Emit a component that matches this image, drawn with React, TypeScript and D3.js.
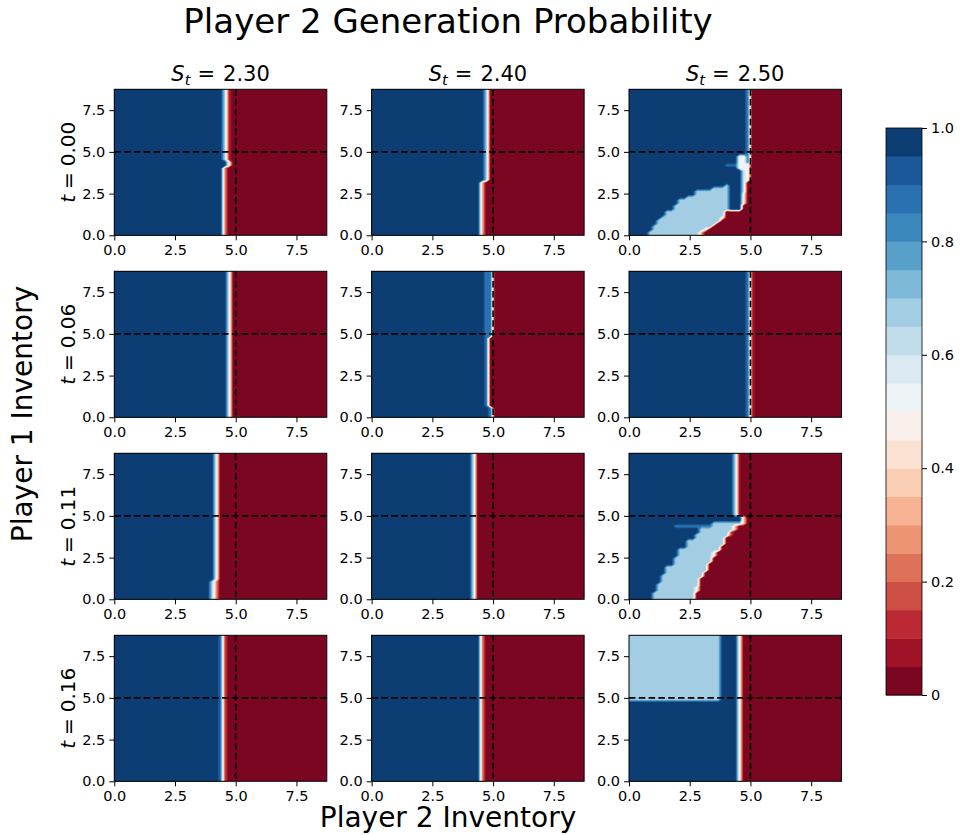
import { useRef, useEffect } from 'react';
import * as d3 from 'd3';

// Column / row headers
const S_VALUES = ['2.30', '2.40', '2.50'];
const T_VALUES = ['0.00', '0.06', '0.11', '0.16'];
const AXIS_TICKS = [0, 2.5, 5.0, 7.5];
const CBAR_TICKS = [0, 0.2, 0.4, 0.6, 0.8, 1.0];
const CBAR_LABELS = ['0', '0.2', '0.4', '0.6', '0.8', '1.0'];
const LEVELS = [0, 0.05, 0.1, 0.15, 0.2, 0.25, 0.3, 0.35, 0.4, 0.45, 0.5, 0.55, 0.6, 0.65, 0.7, 0.75, 0.8, 0.85, 0.9, 0.95, 1.0];
const REF_INVENTORY = 5.0;
const GRID_STEP = 0.175;
const GRID_MAX = 8.75;

// matplotlib RdBu anchor colours
const RDBU_STOPS = [0, 0.1, 0.2, 0.3, 0.4, 0.5, 0.6, 0.7, 0.8, 0.9, 1.0];
const RDBU = ['#67001f', '#b2182b', '#d6604d', '#f4a582', '#fddbc7', '#f7f7f7', '#d1e5f0', '#92c5de', '#4393c3', '#2166ac', '#053061'];

// Decision edge per band of player-1 inventory:
// [yFrom, yTo, player-2 inventory where prob = 0.5, transition width]
const EDGE_T0_S1 = [[0, 4.15, 4.5, 0.22], [4.15, 4.45, 4.72, 0.3], [4.45, 8.75, 4.6, 0.32]];
const EDGE_T0_S2 = [[0, 3.15, 4.52, 0.2], [3.15, 8.75, 4.76, 0.2]];
const EDGE_T0_S3 = [
  [0, 0.2, 2.95, 0.15], [0.2, 0.4, 3.15, 0.15], [0.4, 0.6, 3.4, 0.15], [0.6, 0.8, 3.55, 0.15],
  [0.8, 1.0, 3.7, 0.15], [1.0, 1.2, 3.85, 0.15], [1.2, 1.5, 3.95, 0.15], [1.5, 1.8, 4.65, 0.15],
  [1.8, 2.5, 4.72, 0.15], [2.5, 3.3, 4.8, 0.15], [3.3, 4.3, 4.9, 0.15], [4.3, 8.75, 4.95, 0.15],
];
const EDGE_T1_S1 = [[0, 8.75, 4.74, 0.2]];
const EDGE_T1_S2 = [[0, 0.55, 4.97, 0.2], [0.55, 4.8, 4.8, 0.2], [4.8, 8.75, 4.97, 0.2]];
const EDGE_T1_S3 = [[0, 8.75, 5.0, 0.2]];
const EDGE_T2_S1 = [[0, 1.15, 4.1, 0.45], [1.15, 8.75, 4.21, 0.2]];
const EDGE_T2_S2 = [[0, 8.75, 4.22, 0.2]];
const EDGE_T2_S3 = [
  [0, 0.35, 2.7, 0.15], [0.35, 0.8, 2.8, 0.15], [0.8, 1.3, 2.9, 0.15], [1.3, 1.7, 3.05, 0.15],
  [1.7, 2.1, 3.25, 0.15], [2.1, 2.5, 3.35, 0.15], [2.5, 2.9, 3.5, 0.15], [2.9, 3.3, 3.75, 0.15],
  [3.3, 3.7, 3.95, 0.15], [3.7, 4.1, 4.15, 0.15], [4.1, 4.5, 4.35, 0.15], [4.5, 4.9, 4.7, 0.2],
  [4.9, 8.75, 4.42, 0.3],
];
const EDGE_T3_S1 = [[0, 8.75, 4.47, 0.25]];
const EDGE_T3_S2 = [[0, 8.75, 4.5, 0.22]];
const EDGE_T3_S3 = [[0, 8.75, 4.55, 0.2]];

// Mixed-strategy patches: [yFrom, yTo, xFrom, xTo, probability]
const PATCH_T0_S3 = [
  [0, 0.3, 0.85, 8.75, 0.68], [0.3, 0.6, 1.0, 8.75, 0.68], [0.6, 0.9, 1.1, 8.75, 0.68],
  [0.9, 1.2, 1.3, 8.75, 0.68], [1.2, 1.5, 1.5, 8.75, 0.68], [1.5, 1.8, 1.8, 4.1, 0.68],
  [1.8, 2.1, 2.1, 4.1, 0.68], [2.1, 2.4, 2.45, 4.1, 0.68], [2.4, 2.65, 2.8, 4.1, 0.68],
  [2.65, 2.85, 3.4, 4.1, 0.68], [2.85, 3.1, 3.9, 4.1, 0.68],
  [1.75, 3.9, 4.6, 4.8, 0.6], [3.9, 4.75, 4.4, 4.8, 0.52], [4.15, 4.25, 3.95, 4.4, 0.88],
];
const PATCH_T1_S2 = [[4.8, 8.75, 4.7, 4.9, 0.85]];
const PATCH_T1_S3 = [[0, 8.75, 4.85, 4.95, 0.85]];
const PATCH_T2_S3 = [
  [0, 0.5, 1.05, 8.75, 0.68], [0.5, 1.0, 1.15, 8.75, 0.68], [1.0, 1.5, 1.3, 8.75, 0.68],
  [1.5, 2.0, 1.55, 8.75, 0.68], [2.0, 2.5, 1.8, 8.75, 0.68], [2.5, 3.0, 2.05, 8.75, 0.68],
  [3.0, 3.5, 2.4, 8.75, 0.68], [3.5, 3.9, 2.65, 8.75, 0.68], [3.9, 4.3, 2.9, 8.75, 0.68],
  [4.3, 4.7, 3.4, 4.6, 0.68], [4.3, 4.42, 1.9, 3.4, 0.85],
];
const PATCH_T3_S3 = [[4.8, 8.75, 0, 3.7, 0.68]];

const PANELS = [
  [{ edges: EDGE_T0_S1, patches: [] }, { edges: EDGE_T0_S2, patches: [] }, { edges: EDGE_T0_S3, patches: PATCH_T0_S3 }],
  [{ edges: EDGE_T1_S1, patches: [] }, { edges: EDGE_T1_S2, patches: PATCH_T1_S2 }, { edges: EDGE_T1_S3, patches: PATCH_T1_S3 }],
  [{ edges: EDGE_T2_S1, patches: [] }, { edges: EDGE_T2_S2, patches: [] }, { edges: EDGE_T2_S3, patches: PATCH_T2_S3 }],
  [{ edges: EDGE_T3_S1, patches: [] }, { edges: EDGE_T3_S2, patches: [] }, { edges: EDGE_T3_S3, patches: PATCH_T3_S3 }],
];

const N = Math.round(GRID_MAX / GRID_STEP) + 1;
const EPS = 1e-9;

function buildGrid(edges: number[][], patches: number[][]) {
  const values = new Array(N * N);
  for (let j = 0; j < N; j++) {
    const yv = j * GRID_STEP;
    const e = edges.find(r => yv >= r[0] - EPS && yv <= r[1] + EPS) ?? edges[edges.length - 1];
    for (let i = 0; i < N; i++) {
      const xv = i * GRID_STEP;
      let v = Math.max(0, Math.min(1, 0.5 + (e[2] - xv) / e[3]));
      for (const p of patches) {
        if (yv >= p[0] - EPS && yv <= p[1] + EPS && xv >= p[2] - EPS && xv <= p[3] + EPS) v = Math.min(v, p[4]);
      }
      values[j * N + i] = v;
    }
  }
  return values;
}

export default function App() {
  const svgRef = useRef<SVGSVGElement>(null);

  useEffect(() => {
    if (!svgRef.current) return;
    const svg = d3.select(svgRef.current);
    svg.selectAll('*').remove();

    const font = '"DejaVu Sans", sans-serif';
    const panelX0 = 114.3, colStep = 257.35, panelW = 212.5;
    const panelY0 = 89.3, rowStep = 182, panelH = 146;

    const cmap = d3.scaleLinear<string>().domain(RDBU_STOPS).range(RDBU).interpolate(d3.interpolateRgb);
    const bandColors = LEVELS.slice(0, -1).map((l, i) => cmap((l + LEVELS[i + 1]) / 2));
    const fmt = d3.format('.1f');

    const defs = svg.append('defs');

    PANELS.forEach((row, r) => row.forEach((panel, c) => {
      const left = panelX0 + c * colStep;
      const top = panelY0 + r * rowStep;
      const x = d3.scaleLinear().domain([0, GRID_MAX]).range([left, left + panelW]);
      const y = d3.scaleLinear().domain([0, GRID_MAX]).range([top + panelH, top]);

      const clipId = `clip-${r}-${c}`;
      defs.append('clipPath').attr('id', clipId)
        .append('rect').attr('x', left).attr('y', top).attr('width', panelW).attr('height', panelH);

      const values = buildGrid(panel.edges, panel.patches);
      const contours = d3.contours().size([N, N]).thresholds(LEVELS.slice(1, -1))(values);
      const proj = d3.geoTransform({
        point(px: number, py: number) {
          (this as any).stream.point(x((px - 0.5) * GRID_STEP), y((py - 0.5) * GRID_STEP));
        },
      });
      const path = d3.geoPath(proj);

      const body = svg.append('g').attr('clip-path', `url(#${clipId})`);
      body.append('rect')
        .attr('x', left).attr('y', top).attr('width', panelW).attr('height', panelH)
        .attr('fill', bandColors[0]);
      body.selectAll('path.band')
        .data(contours)
        .join('path')
        .attr('class', 'band')
        .attr('d', d => path(d as any))
        .attr('fill', (_d, i) => bandColors[i + 1]);

      // reference lines
      body.append('line')
        .attr('x1', x(REF_INVENTORY)).attr('x2', x(REF_INVENTORY))
        .attr('y1', top).attr('y2', top + panelH)
        .attr('stroke', '#000').attr('stroke-width', 1.6).attr('stroke-dasharray', '6.5,3.3');
      body.append('line')
        .attr('x1', left).attr('x2', left + panelW)
        .attr('y1', y(REF_INVENTORY)).attr('y2', y(REF_INVENTORY))
        .attr('stroke', '#000').attr('stroke-width', 1.6).attr('stroke-dasharray', '6.5,3.3');

      // Axes
      svg.append('g')
        .attr('transform', `translate(0,${top + panelH})`)
        .call(d3.axisBottom(x).tickValues(AXIS_TICKS).tickFormat(d => fmt(d as number)).tickSizeOuter(0).tickSize(5).tickPadding(4))
        .call(g => g.select('.domain').remove())
        .call(g => g.selectAll('.tick line').attr('stroke', '#000'))
        .call(g => g.selectAll('.tick text').attr('fill', '#000').attr('font-size', '14.5px').attr('font-family', font));

      svg.append('g')
        .attr('transform', `translate(${left},0)`)
        .call(d3.axisLeft(y).tickValues(AXIS_TICKS).tickFormat(d => fmt(d as number)).tickSizeOuter(0).tickSize(5).tickPadding(4))
        .call(g => g.select('.domain').remove())
        .call(g => g.selectAll('.tick line').attr('stroke', '#000'))
        .call(g => g.selectAll('.tick text').attr('fill', '#000').attr('font-size', '14.5px').attr('font-family', font));

      svg.append('rect')
        .attr('x', left).attr('y', top).attr('width', panelW).attr('height', panelH)
        .attr('fill', 'none').attr('stroke', '#000').attr('stroke-width', 1);

      // Column titles (math text: S_t = value)
      if (r === 0) {
        const t = svg.append('text')
          .attr('x', left + panelW / 2).attr('y', top - 8)
          .attr('text-anchor', 'middle')
          .attr('font-family', font).attr('font-size', '21px');
        t.append('tspan').attr('font-style', 'italic').text('S');
        t.append('tspan').attr('font-style', 'italic').attr('font-size', '14.7px').attr('dy', 4).text('t');
        t.append('tspan').attr('dy', -4).attr('dx', 7).text('=');
        t.append('tspan').attr('dx', 8).text(S_VALUES[c]);
      }

      // Row titles
      if (c === 0) {
        const t = svg.append('text')
          .attr('transform', `translate(75,${top + panelH / 2}) rotate(-90)`)
          .attr('text-anchor', 'middle')
          .attr('font-family', font).attr('font-size', '20px');
        t.append('tspan').attr('font-style', 'italic').text('t');
        t.append('tspan').attr('dx', 6).text('=');
        t.append('tspan').attr('dx', 6).text(T_VALUES[r]);
      }
    }));

    // Colorbar
    const cbLeft = 886, cbW = 36, cbTop = 128, cbBottom = 695;
    const yc = d3.scaleLinear().domain([0, 1]).range([cbBottom, cbTop]);
    svg.append('g')
      .selectAll('rect')
      .data(LEVELS.slice(0, -1))
      .join('rect')
      .attr('x', cbLeft).attr('width', cbW)
      .attr('y', (_d, i) => yc(LEVELS[i + 1]))
      .attr('height', (d, i) => yc(d) - yc(LEVELS[i + 1]) + 0.5)
      .attr('fill', (_d, i) => bandColors[i]);
    svg.append('rect')
      .attr('x', cbLeft).attr('y', cbTop).attr('width', cbW).attr('height', cbBottom - cbTop)
      .attr('fill', 'none').attr('stroke', '#000').attr('stroke-width', 0.8);
    svg.append('g')
      .attr('transform', `translate(${cbLeft + cbW},0)`)
      .call(d3.axisRight(yc).tickValues(CBAR_TICKS).tickFormat((_d, i) => CBAR_LABELS[i]).tickSizeOuter(0).tickSize(5).tickPadding(4))
      .call(g => g.select('.domain').remove())
      .call(g => g.selectAll('.tick line').attr('stroke', '#000'))
      .call(g => g.selectAll('.tick text').attr('fill', '#000').attr('font-size', '14.5px').attr('font-family', font));

    // Titles
    svg.append('text')
      .attr('x', 448).attr('y', 33)
      .attr('text-anchor', 'middle')
      .attr('font-family', font).attr('font-size', '34px')
      .text('Player 2 Generation Probability');

    svg.append('text')
      .attr('x', 448).attr('y', 827)
      .attr('text-anchor', 'middle')
      .attr('font-family', font).attr('font-size', '28px')
      .text('Player 2 Inventory');

    svg.append('text')
      .attr('transform', 'translate(32,414) rotate(-90)')
      .attr('text-anchor', 'middle')
      .attr('font-family', font).attr('font-size', '28px')
      .text('Player 1 Inventory');
  }, []);

  return (
    <svg
      ref={svgRef}
      width={963}
      height={835}
      style={{ position: 'absolute', left: 0, top: 0, background: '#fff' }}
    />
  );
}
